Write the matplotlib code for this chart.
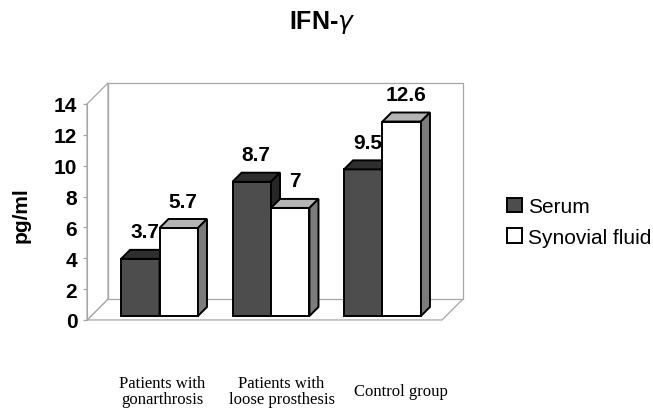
import matplotlib.pyplot as plt
from matplotlib.patches import Polygon

# === DATA ===
categories = ["Patients with\ngonarthrosis", "Patients with\nloose prosthesis", "Control group"]
serum = [3.7, 8.7, 9.5]
synovial = [5.7, 7.0, 12.6]
series_names = ["Serum", "Synovial fluid"]
y_ticks = [0, 2, 4, 6, 8, 10, 12, 14]

# === STYLE / GEOMETRY ===
BAR_W = 0.345
DEPTH_X, DEPTH_Y = 0.188, 1.36      # oblique offset of the back of the chart box
BAR_D0, BAR_D1 = 0.19, 0.62         # bar front/back as fraction of box depth
FLOOR_X0, FLOOR_X1 = -0.614, 2.57
Y_TOP = 14
LABEL_STEP, LABEL_SHIFT = 1.072, 0.058

FACE = {
    "Serum": ("#4d4d4d", "#2e2e2e", "#262626"),
    "Synovial fluid": ("#ffffff", "#b4b4b4", "#7c7c7c"),
}
WALL = "#a6a6a6"
EDGE_LW = 1.4

fig = plt.figure(figsize=(6.53, 4.14), dpi=100)
ax = fig.add_axes([0, 0, 1, 1])
ax.set_xlim(-1.395, 4.462)
ax.set_ylim(-6.03, 20.80)
ax.patch.set_alpha(0)

# --- chart box: floor, left wall, back wall ---
bx, by = DEPTH_X, DEPTH_Y
floor = [(FLOOR_X0, 0), (FLOOR_X1, 0), (FLOOR_X1 + bx, by), (FLOOR_X0 + bx, by)]
left_wall = [(FLOOR_X0, 0), (FLOOR_X0, Y_TOP), (FLOOR_X0 + bx, Y_TOP + by), (FLOOR_X0 + bx, by)]
back_wall = [(FLOOR_X0 + bx, by), (FLOOR_X0 + bx, Y_TOP + by),
             (FLOOR_X1 + bx, Y_TOP + by), (FLOOR_X1 + bx, by)]
for pts in (floor, left_wall, back_wall):
    ax.add_patch(Polygon(pts, closed=True, facecolor="white", edgecolor=WALL, lw=0.9, zorder=1))


def draw_bar(x_left, value, colors, label=None):
    front, top, side = colors
    a0, b0 = BAR_D0 * DEPTH_X, BAR_D0 * DEPTH_Y
    a1, b1 = BAR_D1 * DEPTH_X, BAR_D1 * DEPTH_Y
    bars = ax.bar(x_left + a0, value, width=BAR_W, bottom=b0, align="edge",
                  color=front, edgecolor="black", lw=EDGE_LW, zorder=3, label=label)
    top_pts = [(x_left + a0, value + b0), (x_left + BAR_W + a0, value + b0),
               (x_left + BAR_W + a1, value + b1), (x_left + a1, value + b1)]
    side_pts = [(x_left + BAR_W + a0, b0), (x_left + BAR_W + a0, value + b0),
                (x_left + BAR_W + a1, value + b1), (x_left + BAR_W + a1, b1)]
    ax.add_patch(Polygon(top_pts, closed=True, facecolor=top, edgecolor="black",
                         lw=EDGE_LW, joinstyle="miter", zorder=3))
    ax.add_patch(Polygon(side_pts, closed=True, facecolor=side, edgecolor="black",
                         lw=EDGE_LW, joinstyle="miter", zorder=3))
    # value label above the bar
    ax.text(x_left + BAR_W / 2 + 0.4 * DEPTH_X, value + b0 + 1.75, f"{value:g}",
            ha="center", va="center", fontsize=15, fontweight="bold",
            family="Liberation Sans", zorder=4)
    return bars


handles = []
for i in range(len(categories)):
    h1 = draw_bar(i - BAR_W, serum[i], FACE["Serum"], series_names[0] if i == 0 else None)
    h2 = draw_bar(i, synovial[i], FACE["Synovial fluid"], series_names[1] if i == 0 else None)
    if i == 0:
        handles = [h1, h2]

# category labels under the floor
for i, cat in enumerate(categories):
    ax.text(i * LABEL_STEP + LABEL_SHIFT, -4.6, cat, ha="center", va="center",
            fontsize=12, family="Liberation Serif", linespacing=1.0)

# --- value axis on the front-left edge ---
for side in ("top", "right", "bottom"):
    ax.spines[side].set_visible(False)
ax.spines["left"].set_position(("data", FLOOR_X0))
ax.spines["left"].set_bounds(0, Y_TOP)
ax.spines["left"].set_color(WALL)
ax.spines["left"].set_zorder(2)
ax.set_xticks([])
ax.set_yticks(y_ticks)
ax.tick_params(axis="y", direction="out", length=3, width=0.9, color=WALL, pad=4)
for lbl in ax.get_yticklabels():
    lbl.set_fontsize(15)
    lbl.set_fontweight("bold")
    lbl.set_family("Liberation Sans")

fig.text(21 / 653, 1 - 215 / 414, "pg/ml", rotation=90, ha="center", va="center",
         fontsize=15, fontweight="bold", family="Liberation Sans")

fig.text(322 / 653, 1 - 22 / 414, r"IFN-$\gamma$", ha="center", va="center",
         fontsize=18, fontweight="bold", family="Liberation Sans")

fig.legend(handles=handles, labels=series_names, loc="center left",
           bbox_to_anchor=(507 / 653, 1 - 223 / 414), frameon=False,
           handlelength=0.7, handleheight=0.7, handletextpad=0.3,
           labelspacing=0.55, borderpad=0, borderaxespad=0,
           prop={"family": "Liberation Sans", "size": 15})

fig.savefig("out.png", dpi=100)
